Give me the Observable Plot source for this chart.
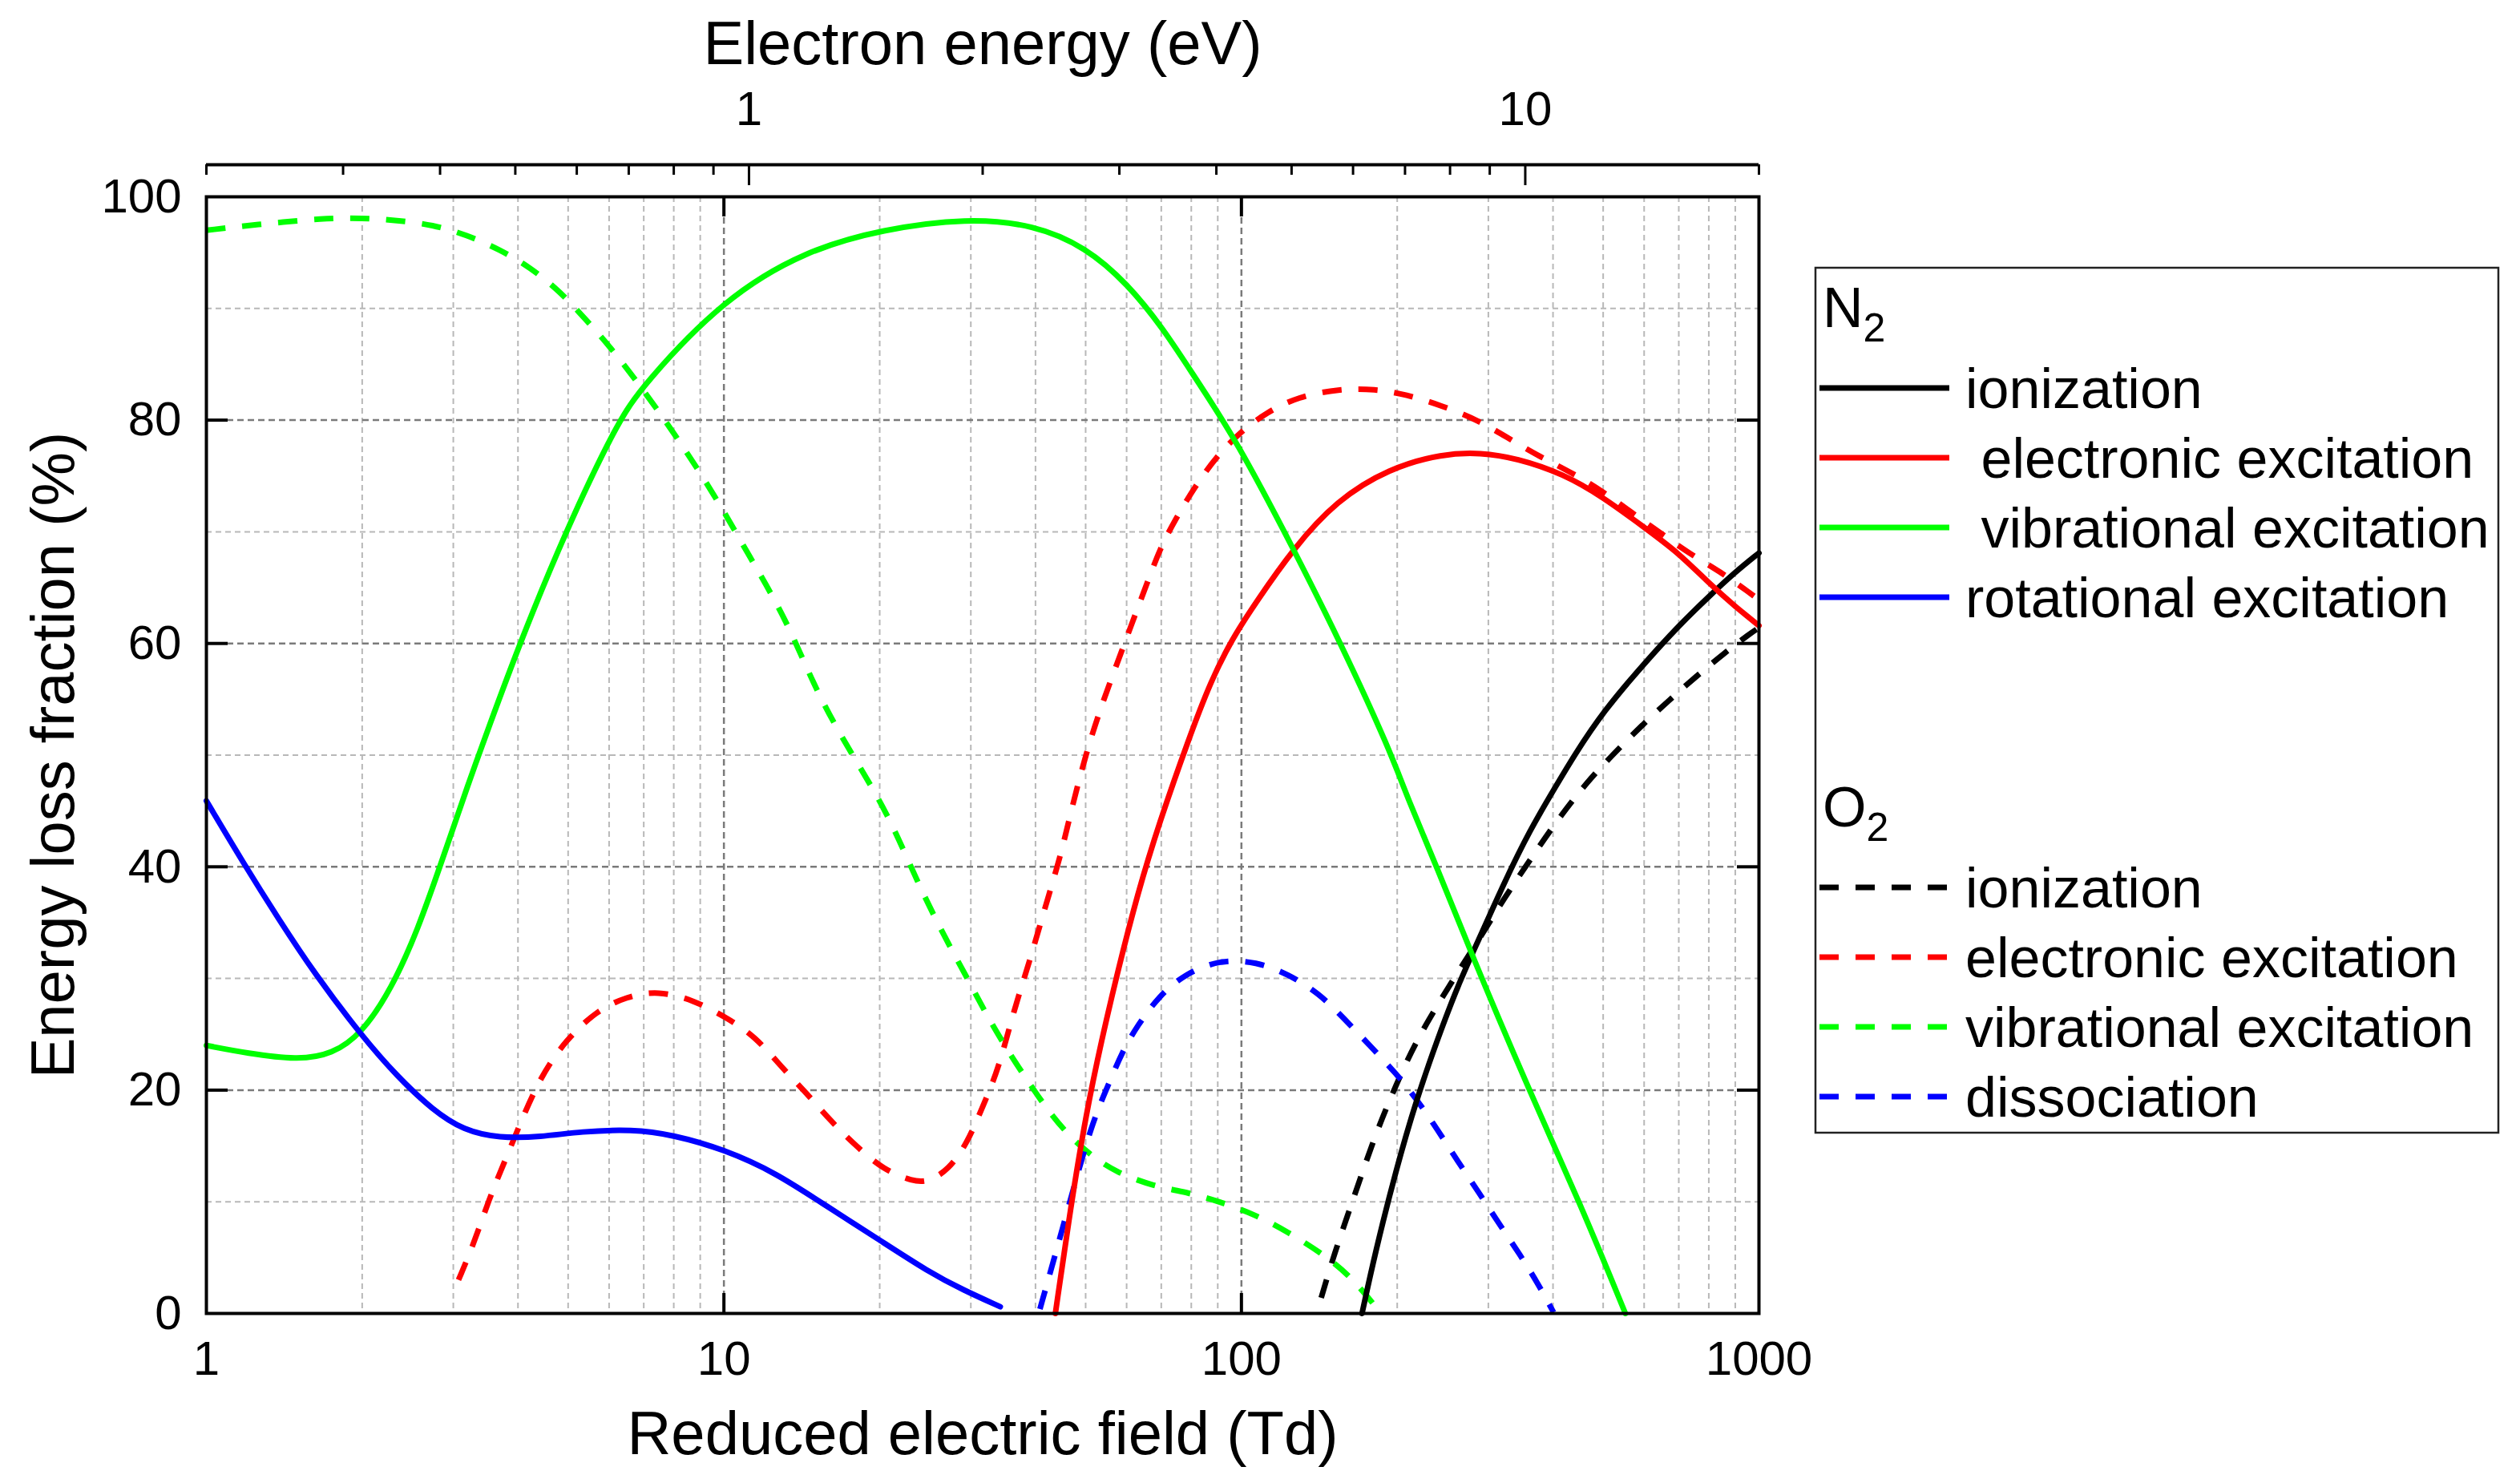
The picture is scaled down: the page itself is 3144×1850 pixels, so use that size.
<!DOCTYPE html>
<html>
<head>
<meta charset="utf-8">
<script src="https://cdn.jsdelivr.net/npm/d3@7"></script>
<script src="https://cdn.jsdelivr.net/npm/@observablehq/plot@0.6"></script>
<style>
  html, body { margin: 0; padding: 0; background: #fff; }
  #chart { position: relative; width: 3144px; height: 1850px; background: #fff;
           font-family: "Liberation Sans", Arial, sans-serif; }
  #chart svg { position: absolute; left: 0; top: 0; }
</style>
</head>
<body>
<div id="chart"></div>
<script>
// ---------------- DATA ----------------
// Reduced electric field (Td) vs energy loss fraction (%)
const n2Ionization = [[171,0],[181,5.3],[199,12.9],[218,19.2],[239,24.5],[262,29.4],[287,33.4],[322,38.6],[361,43.3],[405,47.2],[440,50.0],[500,53.9],[600,58.2],[700,61.6],[800,64.2],[900,66.4],[1000,68.1]];
const n2Electronic = [[43.7,0],[46.8,9.6],[50.1,17.9],[53.7,24.5],[57.5,30.4],[63,37.6],[69.2,43.8],[79.3,51.6],[87.2,56.6],[95.9,60.4],[106.7,63.7],[126,68.5],[152.5,72.8],[193,75.7],[245,77.0],[290,77.1],[340,76.6],[419,75.2],[500,73.1],[600,70.4],[700,68.1],[800,65.4],[900,63.3],[1000,61.6]];
const n2Vibrational = [[1,24.0],[1.2,23.3],[1.5,22.7],[1.75,23.2],[2.0,25.1],[2.28,29.1],[2.56,34.3],[2.87,40.9],[3.21,47.5],[3.5,52.3],[4.03,60.0],[4.95,70.1],[6.21,79.7],[6.96,83.1],[10,90.9],[14.4,95.2],[20.3,97.1],[29.5,98.1],[39.8,97.5],[50,95.5],[60.3,92.2],[70.6,88.2],[81.1,83.9],[97.5,78.3],[126,68.5],[156,59.9],[193,50.6],[210,46.0],[239,39.9],[277,32.4],[361,19.8],[454,9.6],[552,0]];
const n2Rotational = [[1,45.9],[1.18,40.3],[1.38,35.3],[1.62,30.4],[2.0,24.8],[2.34,21.2],[2.74,18.2],[3.14,16.4],[3.68,15.7],[4.42,15.8],[5.3,16.3],[6.65,16.5],[7.97,16.0],[10,14.7],[12.6,12.6],[15.8,9.6],[19.8,6.7],[24.9,3.7],[29,2.1],[34.2,0.6]];

const o2Ionization = [[142.6,1.4],[151,5.3],[165.5,10.6],[181,15.9],[199,20.5],[218,24.5],[250,29.1],[287,33.4],[322,37.2],[361,40.6],[405,44.0],[465,47.6],[531,50.4],[595,52.7],[670,54.9],[754,57.0],[855,59.1],[962,60.9],[1000,61.4]];
const o2Electronic = [[3.07,3.0],[3.29,6.3],[3.52,10.3],[3.77,13.6],[4.03,16.9],[4.42,21.2],[4.95,24.5],[5.67,27.1],[6.5,28.4],[7.45,28.9],[8.73,28.1],[10.2,26.4],[11.5,24.8],[12.9,22.1],[14.4,19.8],[16.1,17.2],[18.1,14.9],[20.3,12.9],[23.2,11.8],[24.9,11.8],[27.2,12.9],[29.5,15.2],[31.6,18.5],[33.9,21.8],[36.3,27.1],[38.9,31.4],[41.7,36.3],[44.7,40.9],[46.8,44.9],[50.1,50.2],[53.7,54.5],[57.5,58.2],[61.1,61.5],[65.6,65.3],[69.6,68.5],[74.7,71.2],[81.2,74.0],[89.3,76.7],[99.8,79.0],[112,80.7],[128.5,82.1],[154.5,82.8],[181,82.8],[208,82.3],[244,81.3],[287,80.0],[330,78.3],[378,76.7],[435,75.3],[500,73.6],[572,71.6],[641,70.0],[736,68.0],[845,66.4],[962,64.5],[1000,63.9]];
const o2Vibrational = [[1,97.0],[1.24,97.5],[1.7,98.1],[2.0,98.1],[2.33,97.9],[2.74,97.5],[3.18,96.6],[3.68,95.3],[4.22,93.7],[4.83,91.5],[5.36,89.2],[6.0,86.7],[6.96,82.8],[7.97,79.0],[9.57,73.4],[11.2,67.8],[13.2,62.2],[15.1,55.6],[17.7,50.0],[20.7,44.9],[23.8,38.3],[27.2,33.0],[29.8,29.7],[31.7,27.3],[34.7,24.1],[40.7,19.2],[45.7,16.2],[51.3,14.1],[57.5,12.6],[67.6,11.4],[79.4,10.8],[91,10.0],[107,8.8],[123,7.3],[144,5.3],[162,3.4],[181,0.7]];
const o2Dissociation = [[40.8,0.4],[43.7,5.3],[46.8,10.3],[51.3,16.9],[55,20.2],[58.9,23.5],[63,25.8],[69.2,28.4],[77.6,30.4],[91,31.7],[107,31.5],[123,30.4],[141,28.7],[158,26.4],[177,24.0],[199,21.5],[218,19.2],[239,16.5],[262,13.6],[287,10.9],[315,8.0],[345,5.3],[374,2.7],[401,0.1]];

// categories
const processes = ["ionization", "electronic excitation", "vibrational excitation", "rotational excitation", "dissociation"];
const processColors = ["#000000", "#ff0000", "#00ff00", "#0000ff", "#0000ff"];
const n2Processes = ["ionization", "electronic excitation", "vibrational excitation", "rotational excitation"];
const o2Processes = ["ionization", "electronic excitation", "vibrational excitation", "dissociation"];
const n2LegendLabels = ["ionization", " electronic excitation", " vibrational excitation", "rotational excitation"];
const o2LegendLabels = ["ionization", "electronic excitation", "vibrational excitation", "dissociation"];

// ticks
const tdTicks = [1, 10, 100, 1000];
const tdMajorInner = [10, 100];
const tdMinor = [2,3,4,5,6,7,8,9,20,30,40,50,60,70,80,90,200,300,400,500,600,700,800,900];
const pctTicks = [0, 20, 40, 60, 80, 100];
const pctMajorInner = [20, 40, 60, 80];
const pctMinor = [10, 30, 50, 70, 90];
const eMajor = [1, 10];
const eMinor = [0.2,0.3,0.4,0.5,0.6,0.7,0.8,0.9,2,3,4,5,6,7,8,9,20];

const xTitle = "Reduced electric field (Td)";
const yTitle = "Energy loss fraction (%)";
const topTitle = "Electron energy (eV)";

// ---------------- BUILD ----------------
const n2Series = [n2Ionization, n2Electronic, n2Vibrational, n2Rotational];
const o2Series = [o2Ionization, o2Electronic, o2Vibrational, o2Dissociation];
const n2Rows = n2Series.flatMap((pts, i) => pts.map(([td, pct]) => ({proc: n2Processes[i], td, pct})));
const o2Rows = o2Series.flatMap((pts, i) => pts.map(([td, pct]) => ({proc: o2Processes[i], td, pct})));

const W = 3144, H = 1850;
const ML = 257, MR = 950, MT = 245, MB = 212;
const FW = W - ML - MR, FH = H - MT - MB;
const font = "Liberation Sans, Arial, sans-serif";
const LW = 7;

const main = Plot.plot({
  width: W, height: H,
  marginLeft: ML, marginRight: MR, marginTop: MT, marginBottom: MB,
  style: {fontFamily: font, fontSize: "60px", background: "transparent", overflow: "visible", color: "black"},
  x: {type: "log", domain: [1, 1000], label: null},
  y: {domain: [0, 100], label: null},
  color: {domain: processes, range: processColors},
  marks: [
    Plot.gridX(tdMinor, {stroke: "#b8b8b8", strokeOpacity: 1, strokeWidth: 2, strokeDasharray: "7,5"}),
    Plot.gridY(pctMinor, {stroke: "#b8b8b8", strokeOpacity: 1, strokeWidth: 2, strokeDasharray: "7,5"}),
    Plot.gridX(tdMajorInner, {stroke: "#7a7a7a", strokeOpacity: 1, strokeWidth: 2.5, strokeDasharray: "8,5"}),
    Plot.gridY(pctMajorInner, {stroke: "#7a7a7a", strokeOpacity: 1, strokeWidth: 2.5, strokeDasharray: "8,5"}),
    Plot.line(o2Rows, {x: "td", y: "pct", z: "proc", stroke: "proc", strokeWidth: LW,
      strokeDasharray: "24,21", strokeLinecap: "butt", curve: "basis"}),
    Plot.line(n2Rows, {x: "td", y: "pct", z: "proc", stroke: "proc", strokeWidth: LW, curve: "basis"}),
    Plot.frame({stroke: "black", strokeWidth: 4}),
    Plot.tickY(pctMajorInner, {y: d => d, insetRight: FW - 27, strokeWidth: 4}),
    Plot.tickY(pctMajorInner, {y: d => d, insetLeft: FW - 27, strokeWidth: 4}),
    Plot.tickX(tdMajorInner, {x: d => d, insetTop: FH - 25, strokeWidth: 4}),
    Plot.tickX(tdMajorInner, {x: d => d, insetBottom: FH - 25, strokeWidth: 4}),
    Plot.axisX(tdTicks, {anchor: "bottom", tickSize: 0, tickPadding: 34, tickFormat: d => String(d), label: null}),
    Plot.axisY(pctTicks, {anchor: "left", tickSize: 0, tickPadding: 31, tickFormat: d => String(d), label: null}),
    Plot.text([xTitle], {frameAnchor: "bottom", dy: 151, fontSize: 76, lineAnchor: "middle", textAnchor: "middle", text: d => d}),
    Plot.text([yTitle], {frameAnchor: "left", dx: -190, rotate: -90, fontSize: 76, lineAnchor: "middle", textAnchor: "middle", text: d => d})
  ]
});

// Top axis: electron energy with its own log scale
const TOPH = 245, TOPMT = 205;
const topAxis = Plot.plot({
  width: W, height: TOPH,
  marginLeft: ML, marginRight: MR, marginTop: TOPMT, marginBottom: TOPH - TOPMT - 26,
  style: {fontFamily: font, fontSize: "60px", background: "transparent", overflow: "visible", color: "black"},
  x: {type: "log", domain: [0.2, 20], axis: null},
  y: {domain: [0, 1], axis: null},
  marks: [
    Plot.ruleY([1], {strokeWidth: 4}),
    Plot.tickX(eMinor, {x: d => d, insetBottom: 13, strokeWidth: 3}),
    Plot.tickX(eMajor, {x: d => d, strokeWidth: 3}),
    Plot.text(eMajor, {x: d => d, frameAnchor: "top", dy: -69, lineAnchor: "middle", textAnchor: "middle", text: d => String(d)}),
    Plot.text([topTitle], {frameAnchor: "top", dy: -150, fontSize: 76, lineAnchor: "middle", textAnchor: "middle", text: d => d})
  ]
});

const chart = document.getElementById("chart");
chart.appendChild(main);
chart.appendChild(topAxis);

// ---------------- LEGEND ----------------
const colorOf = d3.scaleOrdinal(processes, processColors);
const lg = d3.select("#chart").append("svg")
  .attr("width", W).attr("height", H)
  .style("font-family", font);

lg.append("rect")
  .attr("x", 2265).attr("y", 334).attr("width", 852).attr("height", 1079)
  .attr("fill", "white").attr("stroke", "#222").attr("stroke-width", 2.5);

const legendGroups = [
  {base: "N", sub: "2", procs: n2Processes, labels: n2LegendLabels, dash: null},
  {base: "O", sub: "2", procs: o2Processes, labels: o2LegendLabels, dash: "24,21"}
];
const groupBaselines = [408, 1031];
const rowStep = 87, firstRowOffset = 76;

legendGroups.forEach((g, gi) => {
  const base = groupBaselines[gi];
  const t = lg.append("text").attr("x", 2274).attr("y", base).attr("font-size", 70).attr("fill", "black");
  t.append("tspan").text(g.base);
  t.append("tspan").attr("font-size", 50).attr("dy", 18).text(g.sub);
  g.procs.forEach((p, i) => {
    const cy = base + firstRowOffset + i * rowStep;
    const ln = lg.append("line")
      .attr("x1", 2270).attr("x2", 2432).attr("y1", cy).attr("y2", cy)
      .attr("stroke", colorOf(p)).attr("stroke-width", LW);
    if (g.dash) ln.attr("stroke-dasharray", g.dash);
    lg.append("text")
      .attr("x", 2452).attr("y", cy + 25)
      .attr("font-size", 70).attr("fill", "black")
      .attr("xml:space", "preserve").style("white-space", "pre")
      .text(g.labels[i]);
  });
});
</script>
</body>
</html>
